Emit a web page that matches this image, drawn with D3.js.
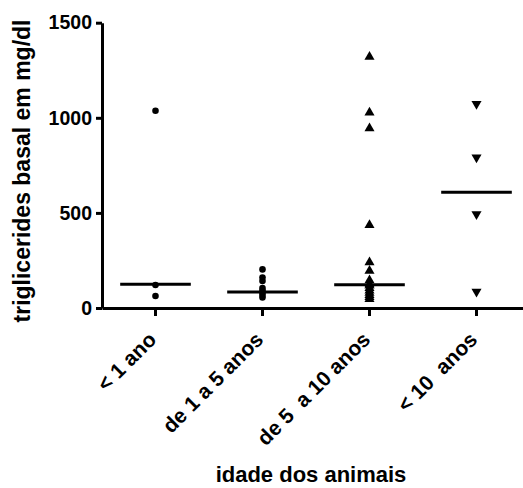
<!DOCTYPE html>
<html>
<head>
<meta charset="utf-8">
<script src="https://cdn.jsdelivr.net/npm/d3@7"></script>
<style>
  body { margin: 0; background: #fff; }
  text { font-family: "Liberation Sans", Arial, sans-serif; font-weight: bold; fill: #000; }
</style>
</head>
<body>
<div id="chart"></div>
<script>
// grupos de idade
var categories = ["< 1 ano", "de 1 a 5 anos", "de 5  a 10 anos", "< 10  anos"];

// valores (mg/dl)
var ate1 = [1037, 121, 63];
var de1a5 = [203, 160, 142, 105, 92, 80, 68, 55];
var de5a10 = [1321, 1027, 945, 436, 240, 195, 145, 125, 118, 105, 92, 80, 68, 57, 47];
var mais10 = [1073, 792, 493, 86];
var medians = [125, 84, 122, 608];

var yTicks = [0, 500, 1000, 1500];

var groups = [ate1, de1a5, de5a10, mais10];
var shapes = ["circle", "circle", "up", "down"];

var W = 523, H = 488;
var svg = d3.select("#chart").append("svg")
    .attr("width", W)
    .attr("height", H);

var x = d3.scaleBand()
    .domain(categories)
    .range([102, 530]);

var y = d3.scaleLinear()
    .domain([0, 1500])
    .range([308, 22.7]);

// eixo y
var yAxis = svg.append("g")
    .attr("transform", "translate(102,0)")
    .call(d3.axisLeft(y).tickValues(yTicks).tickFormat(d3.format("d"))
        .tickSize(6).tickSizeOuter(0).tickPadding(4));

// eixo x
var xAxis = svg.append("g")
    .attr("transform", "translate(0,308)")
    .call(d3.axisBottom(x).tickSize(8).tickSizeOuter(0).tickFormat(""));

svg.selectAll(".domain, .tick line")
    .attr("stroke", "#000")
    .attr("stroke-width", 3);

yAxis.selectAll(".tick text")
    .attr("font-size", 19.5)
    .style("font-family", "Liberation Sans, Arial, sans-serif")
    .style("font-weight", "bold");

// rotulos inclinados
svg.append("g").selectAll("text")
    .data(categories)
    .join("text")
    .attr("transform", d => "translate(" + (x(d) + x.bandwidth() / 2 + 2) + ",341) rotate(-45)")
    .attr("text-anchor", "end")
    .attr("font-size", 21)
    .style("white-space", "pre")
    .text(d => d);

// pontos
var sym = {
    circle: d3.symbol().type(d3.symbolCircle).size(34),
    up: d3.symbol().type(d3.symbolTriangle).size(44),
    down: d3.symbol().type(d3.symbolTriangle).size(44)
};

groups.forEach(function (vals, i) {
    var cx = x(categories[i]) + x.bandwidth() / 2;
    svg.append("g").selectAll("path")
        .data(vals)
        .join("path")
        .attr("d", sym[shapes[i]]())
        .attr("transform", d => "translate(" + cx + "," + y(d) + ")" + (shapes[i] == "down" ? " rotate(180)" : ""))
        .attr("fill", "#000");
});

// linhas da mediana
svg.append("g").selectAll("line")
    .data(medians)
    .join("line")
    .attr("x1", (d, i) => x(categories[i]) + x.bandwidth() * 0.17)
    .attr("x2", (d, i) => x(categories[i]) + x.bandwidth() * 0.83)
    .attr("y1", d => y(d))
    .attr("y2", d => y(d))
    .attr("stroke", "#000")
    .attr("stroke-width", 3);

// titulos
svg.append("text")
    .attr("x", 311)
    .attr("y", 482)
    .attr("text-anchor", "middle")
    .attr("font-size", 22)
    .text("idade dos animais");

svg.append("text")
    .attr("transform", "translate(30,171) rotate(-90)")
    .attr("text-anchor", "middle")
    .attr("font-size", 23)
    .text("triglicerides basal em mg/dl");
</script>
</body>
</html>
